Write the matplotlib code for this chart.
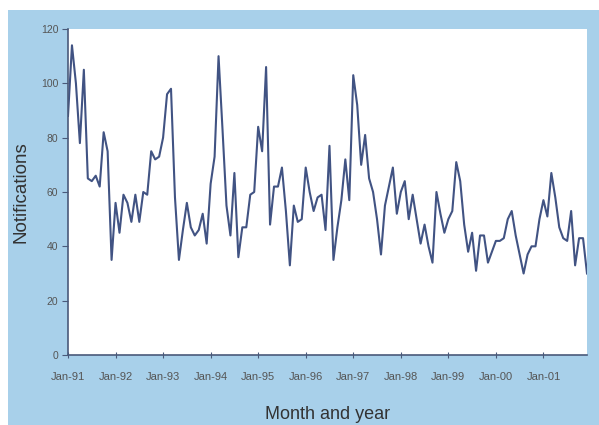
import matplotlib.pyplot as plt
from matplotlib.patches import Rectangle

plt.rcParams['font.family'] = ['Liberation Sans', 'DejaVu Sans']

# monthly notifications, Jan-91 to Dec-01
notif_91 = [88, 114, 100, 78, 105, 65, 64, 66, 62, 82, 75, 35]
notif_92 = [56, 45, 59, 56, 49, 59, 49, 60, 59, 75, 72, 73]
notif_93 = [80, 96, 98, 58, 35, 46, 56, 47, 44, 46, 52, 41]
notif_94 = [63, 73, 110, 83, 55, 44, 67, 36, 47, 47, 59, 60]
notif_95 = [84, 75, 106, 48, 62, 62, 69, 53, 33, 55, 49, 50]
notif_96 = [69, 60, 53, 58, 59, 46, 77, 35, 47, 57, 72, 57]
notif_97 = [103, 92, 70, 81, 65, 60, 50, 37, 55, 62, 69, 52]
notif_98 = [60, 64, 50, 59, 50, 41, 48, 40, 34, 60, 52, 45]
notif_99 = [50, 53, 71, 64, 48, 38, 45, 31, 44, 44, 34, 38]
notif_00 = [42, 42, 43, 50, 53, 44, 37, 30, 37, 40, 40, 50]
notif_01 = [57, 51, 67, 58, 47, 43, 42, 53, 33, 43, 43, 30]

notifications = (notif_91 + notif_92 + notif_93 + notif_94 + notif_95 + notif_96
                 + notif_97 + notif_98 + notif_99 + notif_00 + notif_01)
year_labels = ['Jan-91', 'Jan-92', 'Jan-93', 'Jan-94', 'Jan-95', 'Jan-96',
               'Jan-97', 'Jan-98', 'Jan-99', 'Jan-00', 'Jan-01']

months = list(range(len(notifications)))

panel_blue = '#a8d0ea'
line_col = '#415383'

fig = plt.figure(figsize=(5.99, 4.25), dpi=100)
fig.patch.set_facecolor('white')
fig.patches.append(Rectangle((8 / 599, 0), 1, 1 - 10 / 425, transform=fig.transFigure,
                             facecolor=panel_blue, edgecolor='none', zorder=-10))

ax = fig.add_axes([68 / 599, 1 - 355 / 425, (587 - 68) / 599, (355 - 29) / 425])
ax.set_facecolor('white')
ax.plot(months, notifications, color=line_col, linewidth=1.5)

ax.set_xlim(0, 131)
ax.set_ylim(0, 120)
ax.set_yticks(range(0, 121, 20))
ax.set_xticks(range(0, 121, 12))
ax.set_xticklabels(year_labels)

for side in ['top', 'right']:
    ax.spines[side].set_visible(False)
for side in ['left', 'bottom']:
    ax.spines[side].set_color('#4a5a7a')
    ax.spines[side].set_linewidth(1.2)

ax.tick_params(axis='y', direction='out', length=4, color='#4a5a7a',
               labelsize=7.5, labelcolor='#555555', pad=3)
ax.tick_params(axis='x', direction='inout', length=5, color='#4a5a7a',
               labelsize=8, labelcolor='#555555', pad=10)

ax.set_ylabel('Notifications', fontsize=13.5, color='#333333', labelpad=8)
ax.set_xlabel('Month and year', fontsize=13, color='#333333', labelpad=17)

fig.savefig('out.png', dpi=100, facecolor=fig.get_facecolor())
